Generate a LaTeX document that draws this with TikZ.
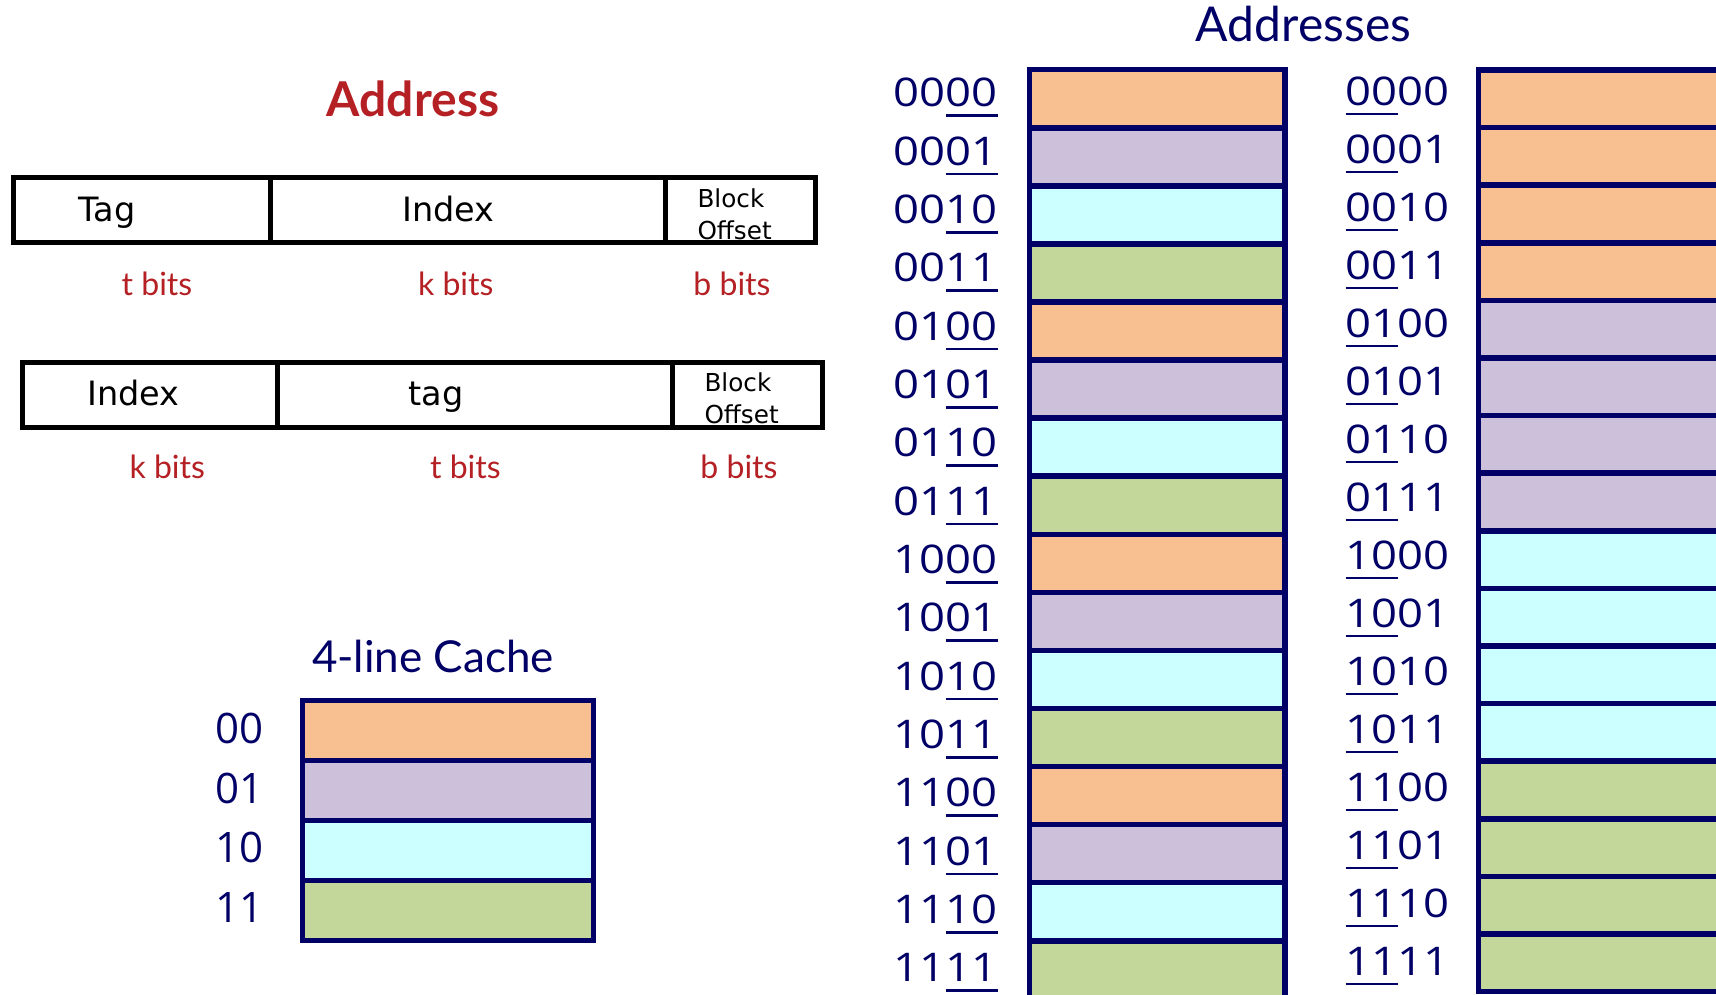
\documentclass[tikz,border=0pt]{standalone}
\usepackage{fontspec}
\setmainfont{Lato}
\newfontfamily\boxfont{DejaVu Sans}
\newfontfamily\digitfont{Open Sans}
\newfontfamily\addrdigits[FakeStretch=1.15]{Open Sans}

\definecolor{navy}{RGB}{0,0,102}
\definecolor{bitred}{RGB}{180,32,36}
\definecolor{cOrange}{RGB}{248,192,144}
\definecolor{cPurple}{RGB}{204,192,218}
\definecolor{cCyan}{RGB}{204,255,255}
\definecolor{cGreen}{RGB}{196,215,155}

% underline the index bits of an address
\newcommand\idxline[1]{\setbox0\hbox{#1}\rlap{\color{navy}\rule[-10.2pt]{\wd0}{2.6pt}}\box0\relax}

\tikzset{
  fieldbox/.style={draw=black, line width=5pt, inner sep=0pt, outer sep=0pt, anchor=north west, minimum height=65pt},
  fieldtext/.style={inner sep=0pt, anchor=base, text=black, font={\boxfont\fontsize{33.5}{40}\selectfont}},
  offtext/.style={inner sep=0pt, anchor=base west, text=black, font={\boxfont\fontsize{24.7}{30}\selectfont}},
  bitstext/.style={inner sep=0pt, anchor=base, text=bitred, font={\fontsize{32}{38}\selectfont}},
  heading/.style={inner sep=0pt, anchor=base, text=navy},
  memcell/.style={draw=navy, line width=5.5pt, inner sep=0pt, outer sep=0pt, anchor=north west},
  cachelbl/.style={inner sep=0pt, anchor=base east, text=navy, font={\digitfont\fontsize{42}{50}\selectfont}},
  addrlbl/.style={inner sep=0pt, text=navy, font={\addrdigits\fontsize{39.5}{46}\selectfont}},
}

\begin{document}
\begin{tikzpicture}[x=1pt,y=-1pt]
\useasboundingbox (0,0) rectangle (1716,994);
\clip (0,0) rectangle (1716,994);

% ---- address layouts ----
\node[inner sep=0pt, anchor=base, text=bitred, font={\bfseries\fontsize{48}{56}\selectfont}] (addrtitle) at (413,116.7) {Address};

\node[fieldbox, minimum width=256.7pt] (f1tag) at (13.3,177.5) {};
\node[fieldbox, minimum width=395pt]   (f1idx) at (270,177.5) {};
\node[fieldbox, minimum width=150.8pt] (f1off) at (665,177.5) {};
\node[fieldtext] (f1tagt) at (107,221.7) {Tag};
\node[fieldtext] (f1idxt) at (448.6,221.7) {Index};
\node[offtext] (f1offa) at (697.3,207.3) {Block};
\node[offtext] (f1offb) at (697.3,239.3) {Offset};
\node[bitstext] (f1tbits) at (157,295) {t bits};
\node[bitstext] (f1kbits) at (455.8,295) {k bits};
\node[bitstext] (f1bbits) at (732,295) {b bits};

\node[fieldbox, minimum width=255pt]   (f2idx) at (22.5,362.5) {};
\node[fieldbox, minimum width=394.7pt] (f2tag) at (277.5,362.5) {};
\node[fieldbox, minimum width=149.8pt] (f2off) at (672.2,362.5) {};
\node[fieldtext] (f2idxt) at (133.4,405) {Index};
\node[fieldtext] (f2tagt) at (436,405) {tag};
\node[offtext] (f2offa) at (704.3,391.7) {Block};
\node[offtext] (f2offb) at (704.3,423.3) {Offset};
\node[bitstext] (f2kbits) at (167.3,478.3) {k bits};
\node[bitstext] (f2tbits) at (465.4,478.3) {t bits};
\node[bitstext] (f2bbits) at (739,478.3) {b bits};

% ---- 4-line cache ----
\node[heading, font={\fontsize{44}{52}\selectfont}] (cachetitle) at (433,672.7) {4-line Cache};
\foreach \lbl/\col [count=\r from 0] in {00/cOrange,01/cPurple,10/cCyan,11/cGreen}{
  \pgfmathsetmacro\rt{700.8+\r*59.8}
  \pgfmathsetmacro\bl{743.3+\r*59.8}
  \node[memcell, line width=5pt, fill=\col, minimum width=290.5pt, minimum height=59.8pt] (line\lbl) at (302.5,\rt) {};
  \node[cachelbl] (linelbl\lbl) at (264,\bl) {\lbl};
}

% ---- memory addresses ----
\node[heading, font={\fontsize{48}{56}\selectfont}] (memtitle) at (1303.5,41.7) {Addresses};
\foreach \h/\hc [count=\a from 0] in {00/cOrange,01/cPurple,10/cCyan,11/cGreen}{
  \foreach \l/\lc [count=\b from 0] in {00/cOrange,01/cPurple,10/cCyan,11/cGreen}{
    \pgfmathtruncatemacro\i{4*\a+\b}
    % low-order index bits
    \pgfmathsetmacro\mt{69.7+\i*58.07}
    \pgfmathsetmacro\mb{106.7+\i*58.33}
    \node[memcell, fill=\lc, minimum width=255.5pt, minimum height=58.07pt] (lo\h\l) at (1029.5,\mt) {};
    \node[addrlbl, anchor=base east] (lolbl\h\l) at (998,\mb) {\h\idxline{\l}};
    % high-order index bits
    \pgfmathsetmacro\rt{70+\i*57.6}
    \pgfmathsetmacro\rb{105+\i*58}
    \node[memcell, fill=\hc, minimum width=320pt, minimum height=57.6pt] (hi\h\l) at (1478.3,\rt) {};
    \node[addrlbl, anchor=base west] (hilbl\h\l) at (1345.5,\rb) {\idxline{\h}\l};
  }
}
\end{tikzpicture}
\end{document}
